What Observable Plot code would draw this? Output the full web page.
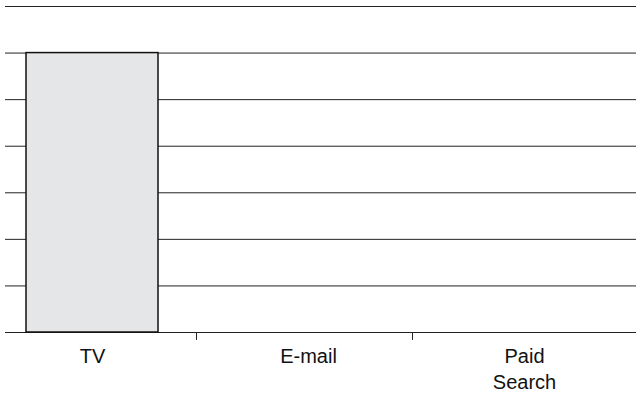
<!DOCTYPE html>
<html>
<head>
<meta charset="utf-8">
<script src="https://cdn.jsdelivr.net/npm/d3@7"></script>
<script src="https://cdn.jsdelivr.net/npm/@observablehq/plot@0.6"></script>
<style>
  html, body { margin: 0; padding: 0; background: #fff; }
  #chart svg { display: block; }
</style>
</head>
<body>
<div id="chart"></div>
<script>
const categories = ["TV", "E-mail", "Paid Search"];
const values = [6, 0, 0];
const gridValues = [0, 1, 2, 3, 4, 5, 6, 7];

const data = categories.map((c, i) => ({category: c, value: values[i]}));
const bars = data.filter(d => d.value > 0);

const chart = Plot.plot({
  width: 636,
  height: 395,
  marginTop: 6,
  marginBottom: 63,
  marginLeft: 5,
  marginRight: 0,
  style: {fontFamily: "'Liberation Sans', Arial, sans-serif", background: "#fff"},
  x: {domain: categories, range: [-16, 632], padding: 0, axis: null},
  y: {domain: [0, 7], axis: null},
  marks: [
    Plot.ruleY(gridValues, {y: d => d, stroke: "#222", strokeWidth: 1}),
    Plot.barY(bars, {x: "category", y: "value", fill: "#e5e6e8", stroke: "#111", strokeWidth: 1.5, insetLeft: 42, insetRight: 42}),
    Plot.ruleX(categories.slice(1), {x: d => d, dx: -112, y1: 0, y2: -0.17, stroke: "#222", strokeWidth: 1}),
    Plot.text(categories, {
      x: d => d, y: 0, text: d => d.replace(" ", "\n"),
      lineAnchor: "top", dy: 12, fontSize: 20, lineHeight: 1.3, fill: "#111"
    })
  ]
});
document.getElementById("chart").appendChild(chart);
</script>
</body>
</html>
